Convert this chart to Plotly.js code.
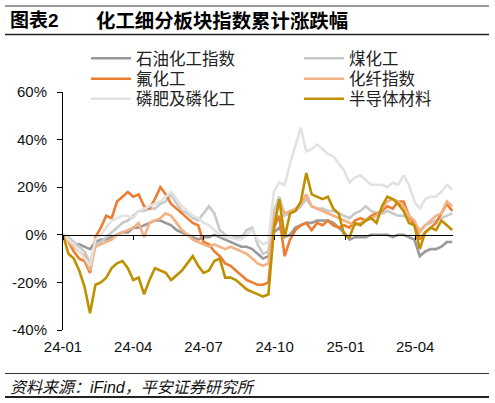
<!DOCTYPE html>
<html><head><meta charset="utf-8">
<script src="https://cdn.plot.ly/plotly-3.0.1.min.js"></script>
<style>html,body{margin:0;padding:0;background:#fff}#c{width:495px;height:403px}</style>
</head><body><div id="c"></div>
<script>
const dates = ['2024-01-01','2024-01-08','2024-01-15','2024-01-22','2024-01-29','2024-02-05','2024-02-12','2024-02-19','2024-02-26','2024-03-04','2024-03-11','2024-03-18','2024-03-25','2024-04-01','2024-04-08','2024-04-15','2024-04-22','2024-04-29','2024-05-06','2024-05-13','2024-05-20','2024-05-27','2024-06-03','2024-06-10','2024-06-17','2024-06-24','2024-07-01','2024-07-08','2024-07-15','2024-07-22','2024-07-29','2024-08-05','2024-08-12','2024-08-19','2024-08-26','2024-09-02','2024-09-09','2024-09-16','2024-09-23','2024-09-30','2024-10-07','2024-10-14','2024-10-21','2024-10-28','2024-11-04','2024-11-11','2024-11-18','2024-11-25','2024-12-02','2024-12-09','2024-12-16','2024-12-23','2024-12-30','2025-01-06','2025-01-13','2025-01-20','2025-01-27','2025-02-03','2025-02-10','2025-02-17','2025-02-24','2025-03-03','2025-03-10','2025-03-17','2025-03-24','2025-03-31','2025-04-07','2025-04-14','2025-04-21','2025-04-28','2025-05-05','2025-05-12','2025-05-19'];

const petro = [0,-2,-4,-4,-5,-6,-3,-2,-2,-1, 0,1,1,3,3,4,5,6,6,5, 4,2,1,0,-1,-2,-1,-1,0,-1, -2,-3,-4,-5,-5,-6,-8,-10,-9,1, 3,-1,0,3,4,5,5,6,6,6, 5,3,1,-2,-1,-1,-1,0,0,0, 0,-1,0,0,-1,-2,-9,-7,-6,-6, -5,-3,-3];
const coal = [0,-1,-3,-5,-7,-12,-4,-3,-1,1, 3,5,6,8,10,10,11,11,13,14, 17,13,10,9,7,6,9,12,9,2, 0,-1,-1,-1,2,3,-4,-8,-7,10, 16,8,9,10,12,15,12,11,11,10, 10,9,8,7,9,10,12,10,9,9, 10,9,8,8,7,5,2,4,5,6, 7,8,9];
const fluor = [0,-3,-7,-10,-11,-16,-1,3,8,7, 14,16,18,16,17,12,11,15,20,17, 13,11,9,7,5,4,-3,-4,-7,-9, -12,-13,-15,-17,-19,-20,-21,-21,-20,3, 8,-9,-2,2,4,5,2,5,4,6, 4,3,4,3,6,7,6,8,9,10, 12,11,14,14,8,4,-2,1,3,5, 9,13,10];
const fiber = [0,-3,-5,-7,-9,-15,-5,-4,-3,-2, 0,1,2,3,5,-1,5,6,7,9, 8,5,2,0,-2,-3,-4,-5,-4,-5, -6,-5,-6,-7,-8,-10,-12,-13,-12,6, 14,9,10,11,13,17,12,11,10,9, 8,7,6,5,4,5,6,7,8,11, 14,15,14,12,8,6,1,4,6,8, 9,14,12];
const phos = [0,-2,-4,-7,-10,-13,-2,0,3,6, 7,8,8,7,10,11,12,13,14,16, 18,15,12,10,8,7,5,4,2,0, -1,-1,-2,-2,0,2,-2,-4,-3,18, 22,21,30,38,45,35,36,38,36,34, 33,30,27,22,24,25,23,21,21,21, 20,22,21,25,21,14,11,15,16,16, 18,21,19];
const semi = [0,-8,-10,-15,-22,-33,-21,-20,-18,-14, -12,-11,-14,-19,-18,-25,-19,-14,-15,-16, -19,-17,-15,-12,-9,-13,-16,-15,-11,-10, -18,-18,-19,-21,-23,-24,-25,-26,-25,2, 15,-1,9,10,14,26,17,16,15,16, 11,9,0,-1,5,4,6,7,5,12, 16,15,13,10,5,4,-6,1,3,2, 6,4,2];

const names = ['石油化工指数','煤化工','氟化工','化纤指数','磷肥及磷化工','半导体材料'];
const yTicks = [-40,-20,0,20,40,60];
const xRange = ['2024-01-01','2025-05-20'];

const F = 'Liberation Sans, Arial, Noto Sans CJK SC, sans-serif';
const series = [petro, coal, fluor, fiber, phos, semi];
const colors = ['#999999','#c9c9c9','#ed7d31','#f4b183','#e2e2e2','#bf9000'];
const legs = ['legend','legend2','legend3','legend4','legend5','legend6'];

const traces = series.map((s,i)=>({
  x: dates, y: s, type:'scatter', mode:'lines', name: names[i],
  line:{color: colors[i], width:2.6}, legend: legs[i], hoverinfo:'skip'
}));
traces.push({x:[dates[0]], y:[null], xaxis:'x2', yaxis:'y', type:'scatter', mode:'lines', showlegend:false, hoverinfo:'skip'});

const W=390, H=238, L=63, T=92;
const px = v => (v-L)/W, py = v => (T+H-v)/H;

const legPos = [[86,41],[299,41],[86,61.5],[299,61.5],[86,81.5],[299,81.5]];
const mkLeg = p => ({x:px(p[0]), y:py(p[1]), xanchor:'left', yanchor:'top', orientation:'v', tracegroupgap:0,
    font:{size:16.5, color:'#222', family:F}, bgcolor:'rgba(0,0,0,0)', itemwidth:40});

const layout = {
  width:495, height:403,
  margin:{l:L, r:495-L-W, t:T, b:403-T-H},
  paper_bgcolor:'#fff', plot_bgcolor:'#fff',
  font:{family:F, size:15, color:'#111'},
  showlegend:true,
  xaxis:{type:'date', range:xRange, tick0:'2024-01-01', dtick:'M3', tickformat:'%y-%m',
    showgrid:false, zeroline:false, showline:false, ticks:'', tickfont:{size:15, color:'#111'}, ticklabelstandoff:6},
  xaxis2:{type:'date', range:xRange, tick0:'2024-01-01', dtick:'M3', overlaying:'x', anchor:'free', position:0.4,
    showgrid:false, zeroline:false, showline:true, linecolor:'#000', linewidth:1.5,
    ticks:'outside', ticklen:4, tickcolor:'#000', tickwidth:1, showticklabels:false},
  yaxis:{range:[-40,60], tickvals:yTicks, ticktext:yTicks.map(v=>v+'%'),
    showgrid:false, zeroline:false, showline:true, linecolor:'#000', linewidth:1,
    ticks:'outside', ticklen:5, tickcolor:'#000', tickfont:{size:15, color:'#111'}, ticklabelstandoff:7},
  shapes:[
    {type:'line', xref:'paper', yref:'paper', x0:px(5), x1:px(489), y0:py(6), y1:py(6), line:{color:'#333', width:1}},
    {type:'line', xref:'paper', yref:'paper', x0:px(5), x1:px(489), y0:py(34.5), y1:py(34.5), line:{color:'#222', width:1.6}},
    {type:'line', xref:'paper', yref:'paper', x0:px(5), x1:px(489), y0:py(373.5), y1:py(373.5), line:{color:'#333', width:1}},
    {type:'line', xref:'paper', yref:'paper', x0:px(5), x1:px(489), y0:py(397), y1:py(397), line:{color:'#222', width:2}}
  ],
  annotations:[
    {text:'<b>图表2</b>', xref:'paper', yref:'paper', x:px(8), y:py(21), xanchor:'left', yanchor:'middle', showarrow:false,
      font:{size:19, color:'#000', family:F}},
    {text:'<b>化工细分板块指数累计涨跌幅</b>', xref:'paper', yref:'paper', x:px(94), y:py(21), xanchor:'left', yanchor:'middle', showarrow:false,
      font:{size:19.4, color:'#000', family:F}},
    {text:'<i>资料来源：iFind，平安证券研究所</i>', xref:'paper', yref:'paper', x:px(8), y:py(387), xanchor:'left', yanchor:'middle', showarrow:false,
      font:{size:16, color:'#111', family:F}}
  ]
};
legs.forEach((k,i)=>{ layout[k] = mkLeg(legPos[i]); });
Plotly.newPlot('c', traces, layout, {displayModeBar:false, staticPlot:true});
</script></body></html>
